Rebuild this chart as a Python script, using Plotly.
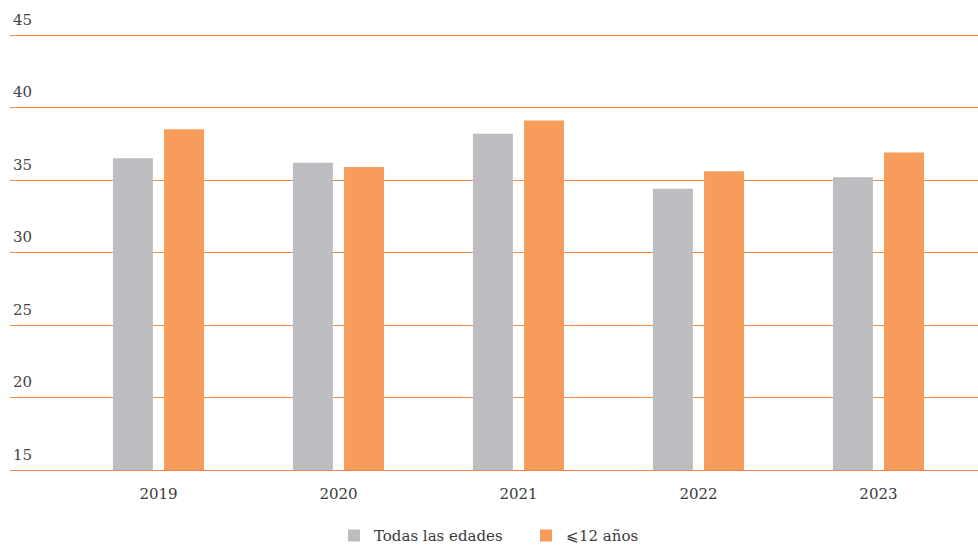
import plotly.graph_objects as go

# Data
years = ["2019", "2020", "2021", "2022", "2023"]
todas_las_edades = [36.5, 36.2, 38.2, 34.4, 35.2]
menores_12 = [38.5, 35.9, 39.1, 35.6, 36.9]
y_ticks = [15, 20, 25, 30, 35, 40, 45]

GRAY = "#bcbdc0"
ORANGE = "#f79c5a"
GRID = "#f58a45"
TEXT = "#3a3a3a"
FONT = "DejaVu Serif"

fig = go.Figure()
fig.add_trace(go.Bar(
    x=list(range(len(years))), y=todas_las_edades, name="Todas las edades",
    marker=dict(color=GRAY, line=dict(width=0)),
    width=0.222, offset=-0.253,
))
fig.add_trace(go.Bar(
    x=list(range(len(years))), y=menores_12, name="⩽12 años",
    marker=dict(color=ORANGE, line=dict(width=0)),
    width=0.222, offset=0.031,
))

fig.update_layout(
    width=978, height=547,
    margin=dict(l=10, r=0, t=10, b=77, pad=0, autoexpand=False),
    plot_bgcolor="white", paper_bgcolor="white",
    barmode="overlay",
    font=dict(family=FONT, size=15, color=TEXT),
    showlegend=True,
    legend=dict(
        orientation="h", x=0.3347, xanchor="left", y=-0.179, yanchor="bottom",
        font=dict(family=FONT, size=15, color=TEXT),
        traceorder="normal", entrywidth=147, entrywidthmode="pixels",
    ),
    xaxis=dict(
        range=[-0.825, 4.553],
        tickmode="array", tickvals=list(range(len(years))), ticktext=years,
        showgrid=False, zeroline=False,
        showline=True, linecolor=GRID, linewidth=1,
        ticks="", ticklabelstandoff=10,
    ),
    yaxis=dict(
        range=[15, 46.73],
        tickmode="array", tickvals=y_ticks,
        showgrid=True, gridcolor=GRID, gridwidth=1,
        zeroline=False, showline=False, ticks="",
        ticklabelposition="inside top", ticklabelshift=-5,
    ),
)

fig.write_html("out.html")
